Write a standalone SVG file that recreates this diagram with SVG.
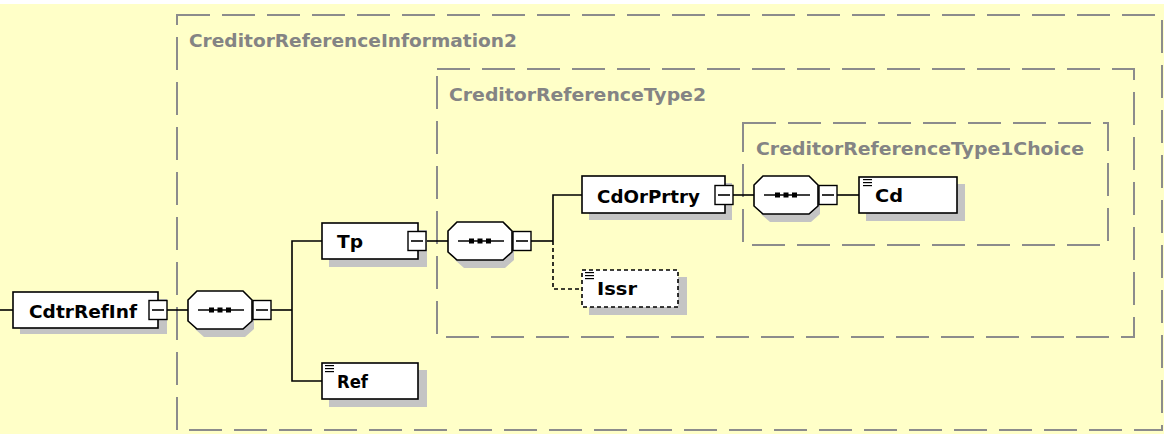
<svg xmlns="http://www.w3.org/2000/svg" width="1164" height="434" viewBox="0 0 1164 434">
<defs>
<style>
.bg{fill:#FFFFC8}
.grp{fill:none;stroke:#8C8C8C;stroke-width:2;stroke-dasharray:33 12}
.glabel{font-family:"DejaVu Sans",sans-serif;font-weight:bold;font-size:18px;fill:#848484}
.box{fill:#FFFFFF;stroke:#000000;stroke-width:1.6}
.optbox{fill:#FFFFFF;stroke:#000000;stroke-width:1.6;stroke-dasharray:4 3}
.shadow{fill:#C4C4C4;stroke:none}
.name{font-family:"DejaVu Sans",sans-serif;font-weight:bold;font-size:18px;fill:#000000}
.conn{fill:none;stroke:#000000;stroke-width:1.6}
.dconn{fill:none;stroke:#000000;stroke-width:1.6;stroke-dasharray:4 3}
.btn{fill:#FFFFFF;stroke:#000000;stroke-width:1.4}
.ico{stroke:#000000;stroke-width:1.2}
</style>
<g id="minus">
<rect class="btn" x="0" y="0" width="18" height="19"/>
<line class="conn" x1="3" y1="9.5" x2="15" y2="9.5"/>
</g>
<g id="seqsym">
<path class="shadow" d="M16 7 H57 L66 16 V38 L57 46 H16 L7 38 V16 Z"/>
<path class="box" d="M9 0 H55 L64 9 V30 L55 38 H9 L0 30 V9 Z"/>
<line class="conn" x1="10" y1="19" x2="56" y2="19"/>
<rect x="21" y="16.5" width="5" height="5" fill="#000"/>
<rect x="29.5" y="16.5" width="5" height="5" fill="#000"/>
<rect x="38" y="16.5" width="5" height="5" fill="#000"/>
</g>
<g id="docico">
<line class="ico" x1="0" y1="0.6" x2="9" y2="0.6"/>
<line class="ico" x1="0" y1="3.6" x2="9" y2="3.6"/>
<line class="ico" x1="0" y1="6.6" x2="9" y2="6.6"/>
</g>
</defs>

<rect x="0" y="0" width="1164" height="434" fill="#FFFFFF"/>
<rect class="bg" x="0" y="4" width="1164" height="430"/>

<g id="group-CreditorReferenceInformation2">
<rect class="grp" x="177" y="15" width="985" height="415"/>
<text class="glabel" x="189" y="47" textLength="328" lengthAdjust="spacingAndGlyphs">CreditorReferenceInformation2</text>
</g>
<g id="group-CreditorReferenceType2">
<rect class="grp" x="437" y="69" width="697" height="268"/>
<text class="glabel" x="449" y="101" textLength="257" lengthAdjust="spacingAndGlyphs">CreditorReferenceType2</text>
</g>
<g id="group-CreditorReferenceType1Choice">
<rect class="grp" x="743" y="123" width="365" height="122"/>
<text class="glabel" x="756" y="155" textLength="328" lengthAdjust="spacingAndGlyphs">CreditorReferenceType1Choice</text>
</g>

<g id="connectors">
<line class="conn" x1="0" y1="310" x2="13" y2="310"/>
<line class="conn" x1="167" y1="310" x2="188" y2="310"/>
<line class="conn" x1="271" y1="310" x2="292" y2="310"/>
<path class="conn" d="M322 241 H292 V381 H322"/>
<line class="conn" x1="426" y1="241" x2="448" y2="241"/>
<line class="conn" x1="531" y1="241" x2="553" y2="241"/>
<path class="conn" d="M582 195 H553 V241"/>
<path class="dconn" d="M553 241 V289 H582"/>
<line class="conn" x1="733" y1="195" x2="754" y2="195"/>
<line class="conn" x1="837" y1="195" x2="859" y2="195"/>
</g>

<g id="node-CdtrRefInf">
<rect class="shadow" x="20" y="299" width="147" height="35"/>
<rect class="box" x="13" y="292" width="145" height="36"/>
<text class="name" x="29" y="318" textLength="108" lengthAdjust="spacingAndGlyphs">CdtrRefInf</text>
<use href="#minus" x="149" y="300.5"/>
</g>

<g id="seq-1">
<use href="#seqsym" x="188" y="291"/>
<use href="#minus" x="253" y="300.5"/>
</g>

<g id="node-Tp">
<rect class="shadow" x="329" y="230" width="98" height="37"/>
<rect class="box" x="322" y="223" width="96" height="36"/>
<text class="name" x="337" y="248" textLength="26" lengthAdjust="spacingAndGlyphs">Tp</text>
<use href="#minus" x="408" y="231.5"/>
</g>

<g id="node-Ref">
<rect class="shadow" x="329" y="370" width="98" height="37"/>
<rect class="box" x="322" y="363" width="96" height="36"/>
<use href="#docico" x="325" y="365"/>
<text class="name" x="337" y="388" textLength="31" lengthAdjust="spacingAndGlyphs">Ref</text>
</g>

<g id="seq-2">
<use href="#seqsym" x="448" y="222"/>
<use href="#minus" x="513" y="231.5"/>
</g>

<g id="node-CdOrPrtry">
<rect class="shadow" x="589" y="183" width="143" height="37"/>
<rect class="box" x="582" y="176" width="143" height="37"/>
<text class="name" x="597" y="203" textLength="103" lengthAdjust="spacingAndGlyphs">CdOrPrtry</text>
<use href="#minus" x="715" y="185.5"/>
</g>

<g id="node-Issr">
<rect class="shadow" x="589" y="277" width="98" height="38"/>
<rect class="optbox" x="582" y="270" width="96" height="37"/>
<use href="#docico" x="585" y="272"/>
<text class="name" x="597" y="295" textLength="40" lengthAdjust="spacingAndGlyphs">Issr</text>
</g>

<g id="seq-3">
<use href="#seqsym" x="754" y="176"/>
<use href="#minus" x="819" y="185.5"/>
</g>

<g id="node-Cd">
<rect class="shadow" x="866" y="184" width="99" height="37"/>
<rect class="box" x="859" y="177" width="98" height="36"/>
<use href="#docico" x="863" y="179"/>
<text class="name" x="875" y="202" textLength="28" lengthAdjust="spacingAndGlyphs">Cd</text>
</g>
</svg>
